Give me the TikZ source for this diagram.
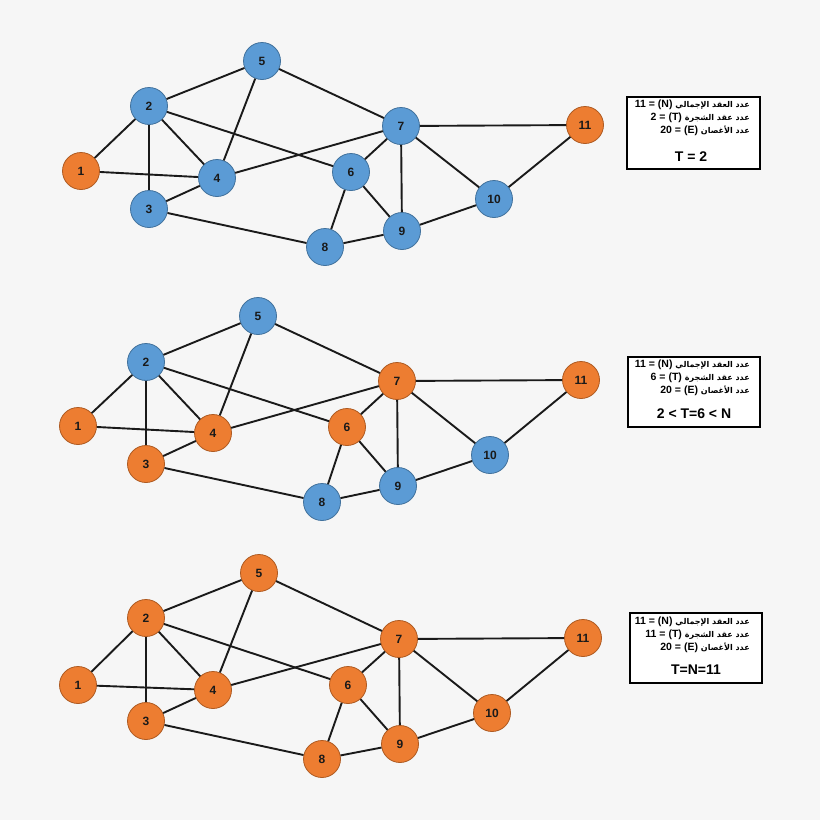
\documentclass[tikz,border=0pt]{standalone}
\usepackage{fontspec}
\setmainfont{Liberation Sans}
\newfontfamily\arabicfont[Script=Arabic]{DejaVu Sans}
\TeXXeTstate=1
\definecolor{bg}{HTML}{F6F6F6}
\definecolor{nblue}{HTML}{5B9BD5}
\definecolor{nbluedk}{HTML}{41719C}
\definecolor{norange}{HTML}{ED7D31}
\definecolor{norangedk}{HTML}{AE5A21}
\definecolor{edgec}{HTML}{1A1A1A}
\tikzset{
  gnode/.style={circle, minimum size=37pt, inner sep=0pt, line width=0.8pt,
    font=\bfseries\fontsize{12}{13}\selectfont, text=edgec},
  bl/.style={gnode, fill=nblue, draw=nbluedk},
  og/.style={gnode, fill=norange, draw=norangedk},
  edge/.style={draw=edgec, line width=1.9pt},
  infobox/.style={draw=black, line width=2.6pt, fill=white, inner sep=0pt},
  infoline/.style={anchor=east, inner sep=0pt, font=\bfseries\fontsize{10.5}{11}\selectfont},
  infobig/.style={inner sep=0pt, font=\bfseries\fontsize{14}{15}\selectfont},
}
\newcommand\arb[1]{{\arabicfont\bfseries\fontsize{8}{8}\selectfont\beginR #1\endR}}
\newcommand\gedges[1]{%
  \foreach \a/\b in {1/2,1/4,2/5,2/3,2/4,2/6,3/4,3/8,4/5,4/7,5/7,7/11,7/6,7/9,7/10,6/9,6/8,8/9,9/10,10/11}
    {\draw[edge] (#1\a) -- (#1\b);}}
\begin{document}
\begin{tikzpicture}[x=1pt,y=-1pt]
\fill[bg] (0,0) rectangle (820,820);
\useasboundingbox (0,0) rectangle (820,820);

% graph 1
\foreach \n/\x/\y/\s in {1/81/171/og,2/149/106/bl,3/149/209/bl,4/217/178/bl,5/262/61/bl,
  6/351/172/bl,7/401/126/bl,8/325/247/bl,9/402/231/bl,10/494/199/bl,11/585/125/og}
  {\node[\s] (a\n) at (\x,\y) {\n};}
\gedges{a}

% graph 2
\foreach \n/\x/\y/\s in {1/78/426/og,2/146/362/bl,3/146/464/og,4/213/433/og,5/258/316/bl,
  6/347/427/og,7/397/381/og,8/322/502/bl,9/398/486/bl,10/490/455/bl,11/581/380/og}
  {\node[\s] (b\n) at (\x,\y) {\n};}
\gedges{b}

% graph 3
\foreach \n/\x/\y/\s in {1/78/685/og,2/146/618/og,3/146/721/og,4/213/690/og,5/259/573/og,
  6/348/685/og,7/399/639/og,8/322/759/og,9/400/744/og,10/492/713/og,11/583/638/og}
  {\node[\s] (c\n) at (\x,\y) {\n};}
\gedges{c}

% info boxes
\node[infobox, minimum width=133pt, minimum height=72pt] (box1) at (693.5,133) {};
\node[infoline] (box1l1) at (750,105) {11 = (N) \arb{عدد العقد الإجمالي}};
\node[infoline] (box1l2) at (750,118) {2 = (T) \arb{عدد عقد الشجرة}};
\node[infoline] (box1l3) at (750,131) {20 = (E) \arb{عدد الأغصان}};
\node[infobig] (box1big) at (691,157) {T = 2};

\node[infobox, minimum width=132pt, minimum height=70pt] (box2) at (694,392) {};
\node[infoline] (box2l1) at (750,365) {11 = (N) \arb{عدد العقد الإجمالي}};
\node[infoline] (box2l2) at (750,378) {6 = (T) \arb{عدد عقد الشجرة}};
\node[infoline] (box2l3) at (750,391) {20 = (E) \arb{عدد الأغصان}};
\node[infobig] (box2big) at (694,414) {2 < T=6 < N};

\node[infobox, minimum width=132pt, minimum height=70pt] (box3) at (696,648) {};
\node[infoline] (box3l1) at (750,622) {11 = (N) \arb{عدد العقد الإجمالي}};
\node[infoline] (box3l2) at (750,635) {11 = (T) \arb{عدد عقد الشجرة}};
\node[infoline] (box3l3) at (750,648) {20 = (E) \arb{عدد الأغصان}};
\node[infobig] (box3big) at (696,670) {T=N=11};
\end{tikzpicture}
\end{document}
